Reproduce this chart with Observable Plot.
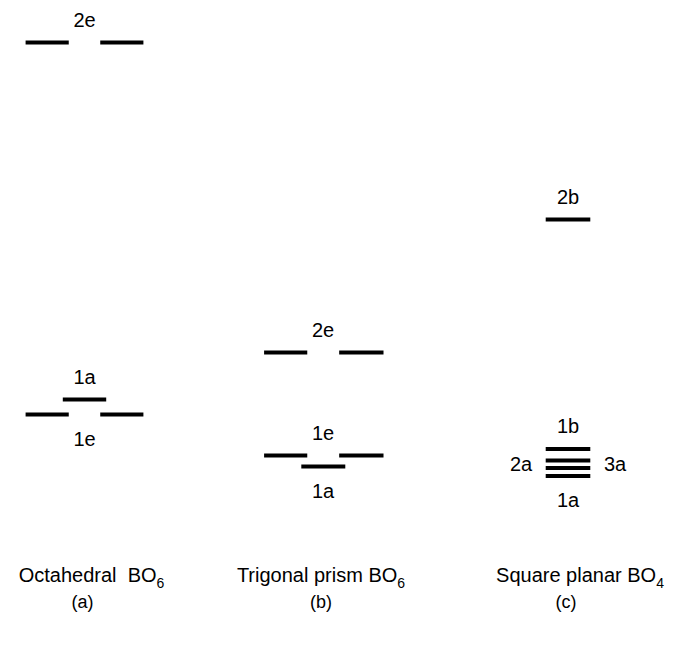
<!DOCTYPE html>
<html>
<head>
<meta charset="utf-8">
<script src="https://cdn.jsdelivr.net/npm/d3@7"></script>
<script src="https://cdn.jsdelivr.net/npm/@observablehq/plot@0.6"></script>
<style>
  html, body { margin: 0; padding: 0; background: #fff; }
  #chart { width: 681px; height: 647px; }
</style>
</head>
<body>
<div id="chart"></div>
<script>
// ---------- data ----------
const geometries = ["Octahedral", "Trigonal prism", "Square planar"];
const captionText = ["Octahedral\u00a0 BO", "Trigonal prism BO", "Square planar BO"];
const captionSub = ["6", "6", "4"];
const panelLetters = ["(a)", "(b)", "(c)"];

const levelGeometry = ["Octahedral", "Octahedral", "Octahedral",
                       "Trigonal prism", "Trigonal prism", "Trigonal prism",
                       "Square planar", "Square planar", "Square planar", "Square planar", "Square planar"];
const levelNames      = ["2e", "1a", "1e", "2e", "1e", "1a", "2b", "1b", "3a", "2a", "1a"];
const levelEnergies   = [45.8, 10.1, 8.6, 14.8, 4.5, 3.4, 28.1, 5.15, 4.0, 3.25, 2.45];
const levelDegeneracy = [2, 1, 2, 2, 2, 1, 1, 1, 1, 1, 1];

// ---------- layout (not data) ----------
const labelPlacement = {
  "Octahedral 2e": "above", "Octahedral 1a": "above", "Octahedral 1e": "below",
  "Trigonal prism 2e": "above", "Trigonal prism 1e": "above", "Trigonal prism 1a": "below",
  "Square planar 2b": "above", "Square planar 1b": "above", "Square planar 3a": "right",
  "Square planar 2a": "left", "Square planar 1a": "below"
};
const captionShift = [7, -2, 12];   // px, horizontal nudge of each caption
const halfBar = 0.091, innerGap = 0.066, outerEdge = 0.247;

const levels = levelNames.map((name, i) => ({
  geometry: levelGeometry[i],
  gi: geometries.indexOf(levelGeometry[i]),
  name,
  energy: levelEnergies[i],
  degeneracy: levelDegeneracy[i],
  place: labelPlacement[levelGeometry[i] + " " + name]
}));

const segments = levels.flatMap(l => l.degeneracy === 2
  ? [{...l, x1: l.gi - outerEdge, x2: l.gi - innerGap}, {...l, x1: l.gi + innerGap, x2: l.gi + outerEdge}]
  : [{...l, x1: l.gi - halfBar, x2: l.gi + halfBar}]);

// side labels sit at the middle of the side-labelled group of each geometry
const sideMid = {};
for (const g of geometries) {
  const s = levels.filter(l => l.geometry === g && (l.place === "left" || l.place === "right"));
  if (s.length) sideMid[g] = d3.mean(s, l => l.energy);
}
const labelRows = levels.map(l => ({
  ...l,
  ly: (l.place === "left" || l.place === "right") ? sideMid[l.geometry] : l.energy
}));

const captions = geometries.map((g, i) => ({gi: i, text: captionText[i], sub: captionSub[i], letter: panelLetters[i]}));

const font = "'Liberation Sans', Arial, Helvetica, sans-serif";
const labelSize = 20;

const chart = Plot.plot({
  width: 681,
  height: 647,
  marginTop: 0,
  marginLeft: 0,
  marginRight: 0,
  marginBottom: 147,
  style: {fontFamily: font, fontSize: "20px", background: "#fff", color: "#000"},
  x: {type: "linear", domain: [0, 1, 2], range: [84, 322.5, 567.5], axis: null},
  y: {type: "linear", domain: [0, 50], range: [500, 0], axis: null},
  marks: [
    Plot.link(segments, {x1: "x1", x2: "x2", y1: "energy", y2: "energy", stroke: "#000", strokeWidth: 4, strokeLinecap: "butt"}),
    Plot.text(labelRows.filter(d => d.place === "above"), {x: "gi", y: "ly", text: "name", dy: -22, fontSize: labelSize, fill: "#000"}),
    Plot.text(labelRows.filter(d => d.place === "below"), {x: "gi", y: "ly", text: "name", dy: 25, fontSize: labelSize, fill: "#000"}),
    Plot.text(labelRows.filter(d => d.place === "left"), {x: "gi", y: "ly", text: "name", dx: -47, fontSize: labelSize, fill: "#000"}),
    Plot.text(labelRows.filter(d => d.place === "right"), {x: "gi", y: "ly", text: "name", dx: 47, fontSize: labelSize, fill: "#000"}),
    ...captions.map((c, i) =>
      Plot.text([c], {x: "gi", text: "text", frameAnchor: "bottom", dy: 81, dx: captionShift[i], fontSize: 20, fill: "#000"})),
    Plot.text(captions, {x: "gi", text: "letter", frameAnchor: "bottom", dy: 107, dx: -2, fontSize: 18, fill: "#000"})
  ]
});

// add subscripts to the caption texts
d3.select(chart).selectAll("text").each(function() {
  const i = captionText.indexOf(this.textContent);
  if (i >= 0) d3.select(this).append("tspan").attr("font-size", 14).attr("dy", 6).text(captionSub[i]);
});

document.getElementById("chart").append(chart);
</script>
</body>
</html>
